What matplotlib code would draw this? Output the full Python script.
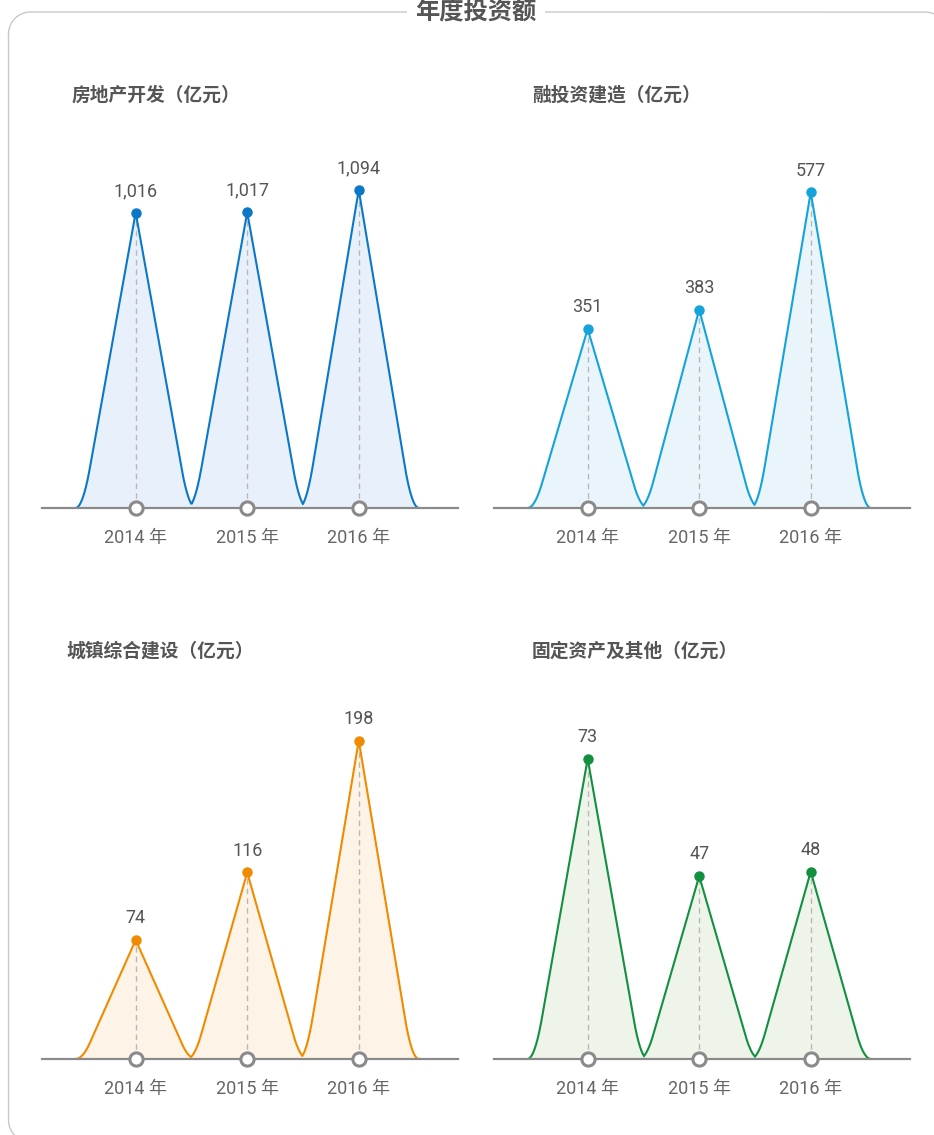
import numpy as np
import matplotlib
matplotlib.use("Agg")
import matplotlib.pyplot as plt

# ---------------- data ----------------
years = ["2014 年", "2015 年", "2016 年"]
titles = ["房地产开发（亿元）", "融投资建造（亿元）", "城镇综合建设（亿元）", "固定资产及其他（亿元）"]
real_estate = [1016, 1017, 1094]
financing_build = [351, 383, 577]
urban_build = [74, 116, 198]
fixed_assets = [73, 47, 48]
value_labels = [["1,016", "1,017", "1,094"], ["351", "383", "577"], ["74", "116", "198"], ["73", "47", "48"]]
line_colors = ["#0a78c6", "#14a3da", "#f08a00", "#12903f"]
fill_colors = ["#e8f1fb", "#eaf5fb", "#fdf3e6", "#eef4ea"]
y_limits = [(0, 1300), (55, 680), (0, 235), (6.5, 90.2)]

series = [real_estate, financing_build, urban_build, fixed_assets]

W, H = 934, 1135
fig = plt.figure(figsize=(W / 100, H / 100), dpi=100)

# background axes for the frame & main title (pixel coordinates)
bg = fig.add_axes([0, 0, 1, 1])
bg.set_xlim(0, W)
bg.set_ylim(H, 0)
bg.axis("off")

R = 22
L, T, RR, B = 8.5, 12.0, 947.0, 1142.0
pts_x, pts_y = [], []
for cx, cy, a0, a1 in [(L + R, T + R, np.pi, 1.5 * np.pi),
                       (RR - R, T + R, 1.5 * np.pi, 2 * np.pi),
                       (RR - R, B - R, 0, 0.5 * np.pi),
                       (L + R, B - R, 0.5 * np.pi, np.pi)]:
    a = np.linspace(a0, a1, 40)
    pts_x += list(cx + R * np.cos(a))
    pts_y += list(cy + R * np.sin(a))
pts_x.append(pts_x[0]); pts_y.append(pts_y[0])
bg.plot(pts_x, pts_y, color="#c8c8c8", lw=1.0)

bg.text(476, 12, "年度投资额", ha="center", va="center", fontsize=17.5,
        fontweight="bold", color="#555555", family=["Noto Sans CJK SC", "DejaVu Sans"],
        bbox=dict(boxstyle="square,pad=0.35", fc="white", ec="none"))

title_pos = [(72, 95), (532, 95), (66, 651), (532, 651)]
for (tx, ty), t in zip(title_pos, titles):
    bg.text(tx, ty, t, ha="left", va="center", fontsize=13.5, fontweight="bold",
            color="#555555", family=["Noto Sans CJK SC", "DejaVu Sans"])

# panel geometry in pixels: (left, right, axis y, top y)
panels = [(42, 458, 508, 130), (494, 910, 508, 130), (42, 458, 1059, 681), (494, 910, 1059, 681)]

HALF_W = 0.54   # half-width of each peak in category units
TAIL = 0.12     # portion of the half-width used for the rounded foot


def peak_profile(x, c):
    d = np.abs(x - c) / HALF_W
    t = 1 - TAIL - d
    h = np.where(t > TAIL, t, np.where(t < -TAIL, 0.0, (t + TAIL) ** 2 / (4 * TAIL)))
    return h / (1 - TAIL)


pos = np.arange(len(years))
num_font = ["Roboto", "Noto Sans CJK SC", "DejaVu Sans"]

for i, (vals, (l, r, yb, yt)) in enumerate(zip(series, panels)):
    ax = fig.add_axes([l / W, (H - yb) / H, (r - l) / W, (yb - yt) / H])
    ymin, ymax = y_limits[i]
    ax.set_xlim(-0.84, 2.89)
    ax.set_ylim(ymin, ymax)
    ax.axis("off")

    x = np.sort(np.concatenate([np.linspace(-HALF_W, 2 + HALF_W, 4001), pos.astype(float)]))
    env = np.zeros_like(x)
    for p, v in zip(pos, vals):
        env = np.maximum(env, peak_profile(x, p) * (v - ymin))
    yenv = ymin + env
    ax.fill_between(x, ymin, yenv, color=fill_colors[i], lw=0, zorder=1)
    ax.plot(x, yenv, color=line_colors[i], lw=1.5, zorder=3, solid_joinstyle="miter")

    ax.vlines(pos, ymin, vals, colors="#b8b8b8", linestyles=(0, (4, 3)), lw=1.0, zorder=2)
    ax.plot(pos, vals, "o", ms=6.5, color=line_colors[i], zorder=5, clip_on=False)

    ax.axhline(ymin, color="#8a8a8a", lw=1.6, zorder=4, clip_on=False)
    ax.plot(pos, [ymin] * len(pos), "o", ms=9.5, mfc="white", mec="#8a8a8a", mew=2.2,
            zorder=6, clip_on=False)

    for p, v, lab in zip(pos, vals, value_labels[i]):
        ax.annotate(lab, (p, v), xytext=(0, 12), textcoords="offset points",
                    ha="center", va="baseline", fontsize=13, color="#555555",
                    family=num_font, annotation_clip=False)
    for p, yl in zip(pos, years):
        ax.annotate(yl, (p, ymin), xytext=(0, -21.5), textcoords="offset points",
                    ha="center", va="center", fontsize=13, color="#666666",
                    family=num_font, annotation_clip=False)

fig.savefig("out.png", dpi=100, facecolor="white")
